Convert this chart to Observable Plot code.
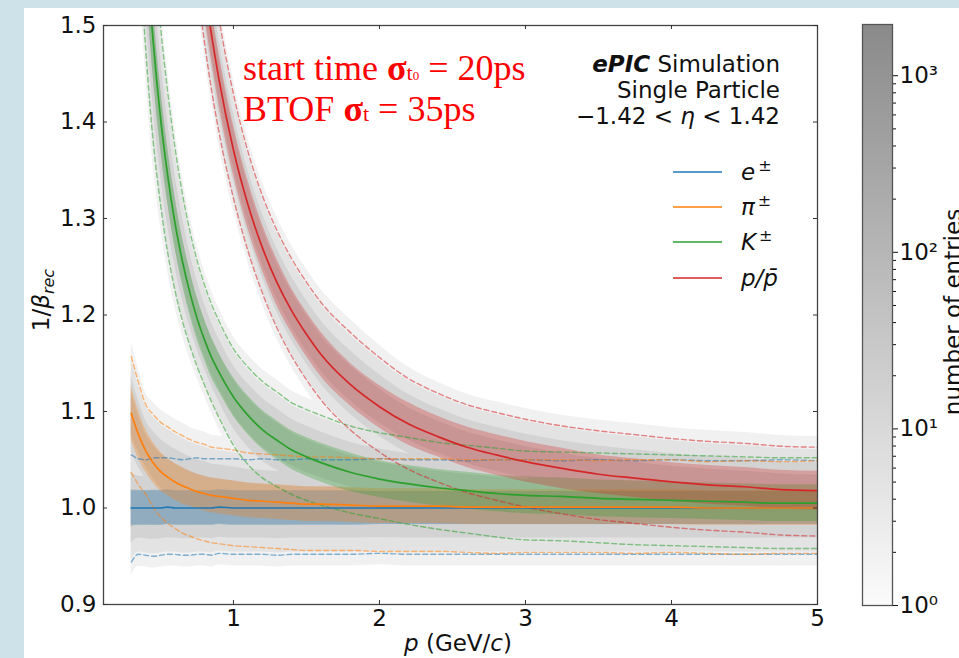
<!DOCTYPE html>
<html><head><meta charset="utf-8">
<script src="https://cdn.jsdelivr.net/npm/d3@7"></script>
<script src="https://cdn.jsdelivr.net/npm/@observablehq/plot@0.6"></script>
<style>
body{margin:0;background:#cde2e9;}
#wrap{position:relative;width:959px;height:658px;overflow:hidden;}
#panel{position:absolute;left:24px;top:8px;width:935px;height:650px;background:#fff;}
#wrap svg{position:absolute;left:0;top:0;}
</style></head><body><div id="wrap"><div id="panel"></div></div>
<script>
// ---------- data ----------
const p = [0.3,0.35,0.4,0.45,0.5,0.55,0.6,0.65,0.7,0.75,0.8,0.85,0.9,1.0,1.1,1.2,1.3,1.4,1.5,1.6,1.8,2.0,2.2,2.4,2.6,2.8,3.0,3.25,3.5,3.75,4.0,4.25,4.5,4.75,5.0];

const eMean = [1.000,1.000,1.000,1.000,1.000,1.001,1.000,1.000,1.000,1.000,1.000,1.000,1.001,1.000,1.000,1.000,1.000,1.000,1.000,1.000,1.000,1.000,1.000,1.000,1.000,1.000,1.000,1.000,1.000,1.000,1.000,1.000,1.000,1.000,1.000];
const eBand = [0.018,0.018,0.018,0.018,0.018,0.018,0.018,0.018,0.018,0.018,0.018,0.018,0.018,0.018,0.018,0.018,0.018,0.018,0.018,0.018,0.018,0.017,0.017,0.017,0.017,0.017,0.017,0.017,0.017,0.017,0.017,0.017,0.017,0.017,0.017];
const eUp = [0.055,0.051,0.050,0.052,0.052,0.051,0.051,0.050,0.051,0.052,0.051,0.051,0.050,0.051,0.050,0.051,0.050,0.050,0.051,0.050,0.050,0.051,0.050,0.050,0.049,0.050,0.050,0.049,0.050,0.049,0.050,0.049,0.049,0.050,0.049];
const eLo = [0.056,0.048,0.049,0.050,0.049,0.049,0.048,0.049,0.049,0.048,0.048,0.049,0.048,0.048,0.048,0.048,0.049,0.048,0.048,0.048,0.048,0.047,0.048,0.048,0.048,0.048,0.048,0.048,0.048,0.048,0.048,0.048,0.048,0.048,0.048];

const piMean = [1.098,1.076,1.059,1.047,1.038,1.032,1.027,1.023,1.020,1.017,1.015,1.013,1.012,1.010,1.008,1.007,1.006,1.005,1.004,1.004,1.003,1.002,1.002,1.002,1.001,1.001,1.001,1.001,1.001,1.001,1.001,1.000,1.000,1.000,1.000];
const piBand = [0.028,0.025,0.022,0.021,0.020,0.019,0.019,0.019,0.018,0.018,0.018,0.018,0.018,0.018,0.018,0.018,0.018,0.018,0.018,0.018,0.018,0.018,0.018,0.018,0.018,0.018,0.018,0.018,0.018,0.018,0.018,0.018,0.018,0.018,0.018];
const piUp = [0.059,0.054,0.048,0.050,0.051,0.052,0.052,0.052,0.051,0.051,0.051,0.050,0.050,0.050,0.049,0.049,0.049,0.049,0.049,0.049,0.049,0.049,0.049,0.049,0.049,0.049,0.049,0.049,0.048,0.049,0.049,0.048,0.049,0.048,0.049];
const piLo = [0.061,0.052,0.045,0.046,0.047,0.048,0.048,0.049,0.049,0.049,0.049,0.049,0.049,0.049,0.048,0.048,0.048,0.048,0.048,0.048,0.047,0.047,0.047,0.047,0.047,0.048,0.047,0.047,0.047,0.048,0.047,0.047,0.048,0.047,0.047];

const kMean = [1.926,1.729,1.588,1.484,1.405,1.344,1.295,1.256,1.224,1.197,1.175,1.156,1.141,1.115,1.096,1.081,1.070,1.060,1.053,1.047,1.037,1.030,1.025,1.021,1.018,1.015,1.013,1.012,1.010,1.009,1.008,1.007,1.006,1.005,1.005];
const kBand = [0.050,0.045,0.040,0.035,0.031,0.028,0.026,0.024,0.023,0.022,0.021,0.021,0.020,0.020,0.020,0.020,0.020,0.020,0.020,0.020,0.020,0.019,0.019,0.019,0.019,0.019,0.019,0.019,0.019,0.019,0.019,0.019,0.019,0.019,0.019];
const kUp = [0.140,0.130,0.115,0.104,0.095,0.087,0.078,0.070,0.064,0.060,0.057,0.055,0.053,0.050,0.050,0.050,0.050,0.049,0.049,0.049,0.048,0.048,0.048,0.047,0.047,0.047,0.046,0.046,0.047,0.047,0.047,0.047,0.047,0.047,0.047];
const kLo = [0.140,0.130,0.115,0.104,0.090,0.080,0.070,0.062,0.055,0.050,0.047,0.046,0.047,0.050,0.051,0.050,0.048,0.046,0.045,0.044,0.042,0.041,0.042,0.043,0.044,0.045,0.046,0.046,0.046,0.047,0.047,0.047,0.047,0.047,0.047];

const prMean = [3.280,2.861,2.550,2.313,2.126,1.977,1.856,1.756,1.672,1.602,1.541,1.490,1.445,1.371,1.314,1.269,1.233,1.204,1.180,1.159,1.128,1.105,1.087,1.074,1.063,1.055,1.048,1.041,1.035,1.031,1.027,1.024,1.022,1.019,1.018];
const prBand = [0.040,0.040,0.038,0.036,0.034,0.032,0.031,0.030,0.029,0.028,0.028,0.027,0.027,0.026,0.025,0.024,0.024,0.023,0.023,0.023,0.022,0.022,0.022,0.021,0.021,0.021,0.021,0.021,0.020,0.020,0.020,0.020,0.020,0.020,0.020];
const prUp = [0.090,0.090,0.085,0.080,0.078,0.075,0.072,0.070,0.068,0.067,0.066,0.066,0.063,0.058,0.055,0.054,0.054,0.054,0.054,0.054,0.054,0.051,0.047,0.045,0.044,0.044,0.044,0.044,0.045,0.045,0.045,0.045,0.045,0.045,0.045];
const prLo = [0.090,0.090,0.085,0.080,0.075,0.070,0.065,0.062,0.060,0.058,0.057,0.057,0.055,0.050,0.048,0.047,0.047,0.047,0.047,0.047,0.047,0.047,0.047,0.047,0.047,0.047,0.047,0.047,0.047,0.047,0.047,0.047,0.047,0.047,0.047];

const speciesKeys = ["e", "pi", "K", "p"];
const speciesColors = ["#1f77b4", "#ff7f0e", "#2ca02c", "#d62728"];
const xTicks = [1, 2, 3, 4, 5];
const yTicks = [0.9, 1.0, 1.1, 1.2, 1.3, 1.4, 1.5];
const cbMajor = [1, 10, 100, 1000];
const cbMinor = [2,3,4,5,6,7,8,9,20,30,40,50,60,70,80,90,200,300,400,500,600,700,800,900];
const cbLabels = {1: "10⁰", 10: "10¹", 100: "10²", 1000: "10³"};
const cbMax = 1950;

// ---------- table ----------
const series = [
  {key: "e", mean: eMean, band: eBand, up: eUp, lo: eLo},
  {key: "pi", mean: piMean, band: piBand, up: piUp, lo: piLo},
  {key: "K", mean: kMean, band: kBand, up: kUp, lo: kLo},
  {key: "p", mean: prMean, band: prBand, up: prUp, lo: prLo}
];
const rows = [];
series.forEach(s => p.forEach((pv, i) => rows.push({sp: s.key, p: pv, m: s.mean[i], b: s.band[i], up: s.up[i], lo: s.lo[i]})));

const W = 959, H = 658;
const fL = 103, fR = 817, fT = 25, fB = 604;
const innerW = fR - fL, innerH = fB - fT;
const curve = "monotone-x";
const font = "DejaVu Sans, Verdana, sans-serif";

const grayLevels = [[1.25, "#f1f1f1"], [0.95, "#e3e3e3"], [0.65, "#d3d3d3"], [0.36, "#c3c3c3"]];
const grayMarks = grayLevels.map(([k, c]) => Plot.areaY(rows, {
  x: "p", y1: d => d.m - k * d.lo, y2: d => d.m + k * d.up, z: "sp", fill: c, curve, clip: true
}));

const chart = Plot.plot({
  width: W, height: H,
  marginLeft: fL, marginRight: W - fR, marginTop: fT, marginBottom: H - fB,
  x: {domain: [0.11, 5]},
  y: {domain: [0.9, 1.5]},
  color: {domain: speciesKeys, range: speciesColors},
  style: {fontFamily: font, fontSize: "23px", background: "transparent", color: "#111"},
  marks: [
    ...grayMarks,
    Plot.areaY(rows, {x: "p", y1: d => d.m - d.b, y2: d => d.m + d.b, z: "sp", fill: "sp", fillOpacity: 0.3, curve, clip: true}),
    Plot.lineY(rows, {x: "p", y: d => d.m + d.up, z: "sp", stroke: "sp", strokeOpacity: 0.55, strokeWidth: 1.4, strokeDasharray: "5,3", curve, clip: true}),
    Plot.lineY(rows, {x: "p", y: d => d.m - d.lo, z: "sp", stroke: "sp", strokeOpacity: 0.55, strokeWidth: 1.4, strokeDasharray: "5,3", curve, clip: true}),
    Plot.lineY(rows, {x: "p", y: "m", z: "sp", stroke: "sp", strokeWidth: 1.7, curve, clip: true}),
    Plot.frame({stroke: "#444", strokeWidth: 1.3}),
    Plot.tickX(xTicks, {x: d => d, insetTop: innerH - 4, stroke: "#333"}),
    Plot.tickX(xTicks, {x: d => d, insetBottom: innerH - 4, stroke: "#333"}),
    Plot.tickY(yTicks, {y: d => d, insetRight: innerW - 4, stroke: "#333"}),
    Plot.tickY(yTicks, {y: d => d, insetLeft: innerW - 4, stroke: "#333"}),
    Plot.axisX(xTicks, {tickSize: 0, tickPadding: 5, fontSize: 23, label: null, tickFormat: d => String(d)}),
    Plot.axisY(yTicks, {tickSize: 0, tickPadding: 7, fontSize: 23, label: null, tickFormat: d => d.toFixed(1)})
  ]
});
document.getElementById("wrap").appendChild(chart);

const svg = d3.select(chart);
// y label
const yl = svg.append("text").attr("transform", "translate(49,300) rotate(-90)")
  .attr("text-anchor", "middle").attr("font-size", 23).attr("fill", "#111");
yl.append("tspan").text("1/");
yl.append("tspan").attr("font-style", "italic").text("β");
yl.append("tspan").attr("font-style", "italic").attr("font-size", 16).attr("dy", 5).text("rec");
// x label
const xl = svg.append("text").attr("x", 458).attr("y", 651).attr("text-anchor", "middle").attr("font-size", 23).attr("fill", "#111");
xl.append("tspan").attr("font-style", "italic").text("p");
xl.append("tspan").text(" (GeV/");
xl.append("tspan").attr("font-style", "italic").text("c");
xl.append("tspan").text(")");

// header text (top right)
const t1 = svg.append("text").attr("x", 780).attr("y", 72).attr("text-anchor", "end").attr("font-size", 23).attr("fill", "#111");
t1.append("tspan").attr("font-weight", "bold").attr("font-style", "italic").text("ePIC");
t1.append("tspan").text(" Simulation");
svg.append("text").attr("x", 780).attr("y", 98).attr("text-anchor", "end").attr("font-size", 23).attr("fill", "#111").text("Single Particle");
const t3 = svg.append("text").attr("x", 780).attr("y", 124).attr("text-anchor", "end").attr("font-size", 23).attr("fill", "#111");
t3.append("tspan").text("−1.42 < ");
t3.append("tspan").attr("font-style", "italic").text("η");
t3.append("tspan").text(" < 1.42");

// legend
const legY = [172, 207, 242, 278];
const legLab = [["e", "±"], ["π", "±"], ["K", "±"], ["p/p\u0304", ""]];
speciesColors.forEach((c, i) => {
  svg.append("line").attr("x1", 673).attr("x2", 722).attr("y1", legY[i]).attr("y2", legY[i]).attr("stroke", c).attr("stroke-width", 1.7);
  const t = svg.append("text").attr("x", 741).attr("y", legY[i]).attr("dy", "0.35em").attr("text-anchor", "start").attr("font-size", 23).attr("fill", "#111");
  t.append("tspan").attr("font-style", "italic").text(legLab[i][0]);
  if (legLab[i][1]) t.append("tspan").attr("font-size", 16).attr("dy", -9).attr("dx", 3).text(legLab[i][1]);
});

// red annotation
const serif = "Liberation Serif, Times New Roman, serif";
const r1 = svg.append("text").attr("x", 243).attr("y", 80).attr("text-anchor", "start").attr("font-family", serif).attr("font-size", 36).attr("fill", "#ff0000");
r1.append("tspan").text("start time ");
r1.append("tspan").attr("font-weight", "bold").text("σ");
r1.append("tspan").attr("font-size", 22).text("t");
r1.append("tspan").attr("font-size", 13).text("0");
r1.append("tspan").text(" = 20ps");
const r2 = svg.append("text").attr("x", 243).attr("y", 121).attr("text-anchor", "start").attr("font-family", serif).attr("font-size", 36).attr("fill", "#ff0000");
r2.append("tspan").text("BTOF ");
r2.append("tspan").attr("font-weight", "bold").text("σ");
r2.append("tspan").attr("font-size", 22).text("t");
r2.append("tspan").text(" = 35ps");

// ---------- colorbar ----------
const cbL = 862, cbR = 892, cbT = 24, cbB = 605;
const cb = Plot.plot({
  width: W, height: H,
  marginLeft: cbL, marginRight: W - cbR, marginTop: cbT, marginBottom: H - cbB,
  x: {domain: [0, 1], axis: null},
  y: {type: "log", domain: [1, cbMax]},
  style: {fontFamily: font, fontSize: "23px", background: "transparent", color: "#111"},
  marks: [
    Plot.frame({fill: "url(#cbgrad)"}),
    Plot.frame({stroke: "#555", strokeWidth: 1.3}),
    Plot.axisY(cbMinor, {anchor: "right", tickSize: 3, tickFormat: () => "", label: null}),
    Plot.axisY(cbMajor, {anchor: "right", tickSize: 5, tickPadding: 2, fontSize: 23, label: null, tickFormat: d => cbLabels[d]})
  ]
});
document.getElementById("wrap").appendChild(cb);
const cbs = d3.select(cb);
const grad = cbs.insert("defs", ":first-child").append("linearGradient").attr("id", "cbgrad")
  .attr("x1", 0).attr("y1", 1).attr("x2", 0).attr("y2", 0);
grad.append("stop").attr("offset", 0).attr("stop-color", "#fbfbfb");
grad.append("stop").attr("offset", 1).attr("stop-color", "#8a8a8a");
cbs.append("text").attr("transform", "translate(961,312) rotate(-90)").attr("text-anchor", "middle")
  .attr("font-size", 23).attr("fill", "#111").text("number of entries");
</script></body></html>
